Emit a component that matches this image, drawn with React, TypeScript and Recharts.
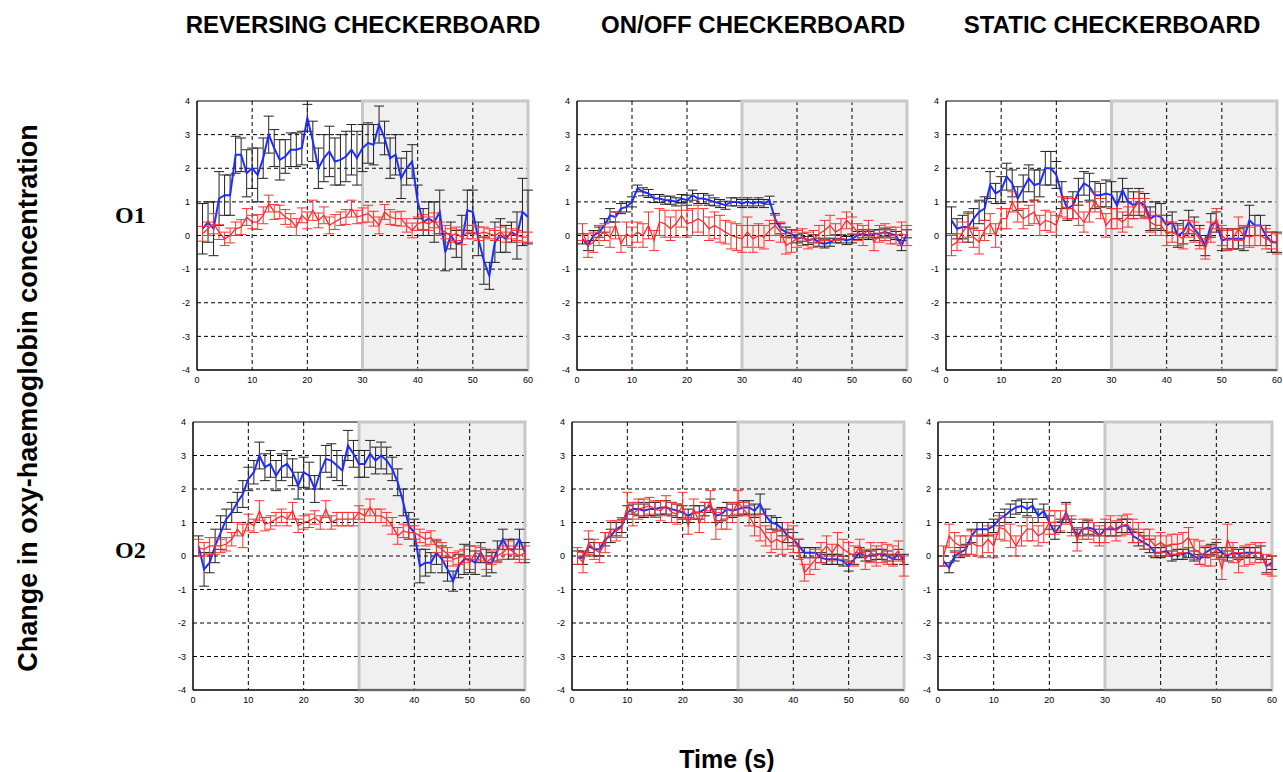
import { ComposedChart, Line, XAxis, YAxis, CartesianGrid, ReferenceArea, ErrorBar } from "recharts";

// time in seconds, 1..60
const seconds = [
  1, 2, 3, 4, 5, 6, 7, 8, 9, 10, 11, 12, 13, 14, 15, 16, 17, 18, 19, 20,
  21, 22, 23, 24, 25, 26, 27, 28, 29, 30, 31, 32, 33, 34, 35, 36, 37, 38, 39, 40,
  41, 42, 43, 44, 45, 46, 47, 48, 49, 50, 51, 52, 53, 54, 55, 56, 57, 58, 59, 60,
];

const xTicks = [0, 10, 20, 30, 40, 50, 60];
const yTicks = [-4, -3, -2, -1, 0, 1, 2, 3, 4];
const xGrid = [10, 20, 30, 40, 50];
const yGrid = [-3, -2, -1, 0, 1, 2, 3];

const columnTitles = ["REVERSING CHECKERBOARD", "ON/OFF CHECKERBOARD", "STATIC CHECKERBOARD"];
const rowLabels = ["O1", "O2"];

// reversing checkerboard, O1
const revO1Blue = [
  0.2, 0.4, 0.2, 1.1, 1.2, 1.2, 2.4, 2.4, 1.85, 2.0, 1.8, 2.3, 3.0, 2.6, 2.25, 2.35, 2.55, 2.55, 2.6, 3.5,
  2.8, 2.0, 2.3, 2.5, 2.2, 2.25, 2.35, 2.55, 2.3, 2.6, 2.75, 2.7, 3.3, 2.9, 2.3, 2.4, 1.7, 2.0, 2.2, 1.0,
  0.4, 0.5, 0.4, 0.7, -0.5, 0.0, -0.25, -0.2, 0.75, 0.7, -0.1, -0.75, -1.2, -0.2, 0.0, -0.1, 0.1, 0.0, 0.7, 0.55,
];
const revO1BlueErr = [
  0.75, 0.6, 0.8, 0.8, 0.6, 0.6, 0.55, 0.5, 0.7, 0.6, 0.8, 0.6, 0.55, 0.55, 0.6, 0.5, 0.5, 0.5, 0.5, 0.4,
  0.6, 0.6, 0.7, 0.75, 0.7, 0.75, 0.75, 0.75, 0.8, 0.7, 0.6, 0.6, 0.55, 0.5, 0.6, 0.6, 0.6, 0.5, 0.5, 0.5,
  0.4, 0.5, 0.6, 0.65, 0.55, 0.4, 0.4, 0.8, 0.6, 0.65, 0.5, 0.7, 0.4, 0.6, 0.5, 0.4, 0.3, 0.7, 1.0, 0.8,
];
const revO1Red = [
  0.05, 0.2, 0.35, 0.1, -0.1, 0.0, 0.2, 0.25, 0.55, 0.4, 0.4, 0.6, 0.95, 0.7, 0.7, 0.55, 0.45, 0.25, 0.6, 0.45,
  0.75, 0.45, 0.6, 0.3, 0.4, 0.5, 0.55, 0.8, 0.55, 0.6, 0.65, 0.5, 0.3, 0.7, 0.55, 0.5, 0.5, 0.3, 0.15, 0.35,
  0.4, 0.35, 0.45, 0.2, 0.1, 0.0, 0.05, -0.05, 0.1, 0.1, 0.05, 0.1, 0.05, 0.0, 0.1, -0.05, 0.05, 0.0, -0.05, -0.05,
];
const revO1RedErr = [
  0.22, 0.2, 0.3, 0.22, 0.2, 0.22, 0.2, 0.22, 0.25, 0.2, 0.22, 0.25, 0.25, 0.22, 0.2, 0.22, 0.2, 0.25, 0.22, 0.25,
  0.3, 0.22, 0.25, 0.25, 0.22, 0.2, 0.22, 0.25, 0.2, 0.22, 0.25, 0.22, 0.25, 0.22, 0.22, 0.2, 0.22, 0.2, 0.22, 0.2,
  0.22, 0.2, 0.22, 0.2, 0.2, 0.2, 0.2, 0.22, 0.2, 0.2, 0.2, 0.15, 0.15, 0.15, 0.15, 0.15, 0.15, 0.15, 0.15, 0.15,
];

// on/off checkerboard, O1
const onoffO1Blue = [
  -0.1, -0.3, 0.0, 0.1, 0.3, 0.6, 0.55, 0.8, 0.85, 1.0, 1.4, 1.3, 1.25, 1.1, 1.1, 1.05, 1.05, 1.0, 1.1, 1.05,
  1.2, 1.1, 1.1, 1.05, 1.0, 0.95, 0.9, 1.0, 1.0, 0.95, 1.0, 0.95, 1.0, 0.95, 1.05, 0.5, 0.2, 0.1, 0.05, -0.1,
  -0.05, -0.15, -0.1, -0.2, -0.25, -0.2, -0.1, -0.1, -0.15, -0.1, 0.0, 0.05, 0.0, 0.05, 0.05, 0.1, 0.05, 0.0, -0.3, 0.05,
];
const onoffO1BlueErr = [
  0.15, 0.15, 0.15, 0.15, 0.2, 0.2, 0.15, 0.15, 0.15, 0.15, 0.1, 0.12, 0.12, 0.12, 0.12, 0.12, 0.12, 0.12, 0.12, 0.15,
  0.15, 0.15, 0.15, 0.15, 0.12, 0.12, 0.12, 0.12, 0.12, 0.12, 0.12, 0.12, 0.12, 0.12, 0.12, 0.15, 0.15, 0.15, 0.12, 0.12,
  0.12, 0.12, 0.12, 0.12, 0.12, 0.12, 0.12, 0.12, 0.12, 0.12, 0.12, 0.12, 0.12, 0.12, 0.12, 0.12, 0.12, 0.12, 0.15, 0.12,
];
const onoffO1Red = [
  0.1, -0.3, -0.2, 0.0, 0.1, -0.05, 0.3, -0.25, 0.05, -0.05, 0.1, 0.0, 0.3, -0.15, 0.4, 0.35, 0.2, 0.35, 0.6, 0.35,
  0.4, 0.5, 0.4, 0.2, 0.3, 0.2, 0.1, 0.0, -0.05, -0.1, 0.1, -0.1, 0.0, -0.05, 0.15, 0.3, 0.1, -0.3, -0.2, -0.1,
  -0.05, -0.15, -0.1, 0.05, 0.15, 0.3, 0.1, 0.2, 0.45, 0.3, 0.1, 0.0, 0.2, -0.2, 0.05, 0.1, 0.0, 0.0, 0.05, 0.0,
];
const onoffO1RedErr = [
  0.25, 0.35, 0.3, 0.3, 0.25, 0.3, 0.4, 0.25, 0.35, 0.3, 0.3, 0.35, 0.4, 0.3, 0.4, 0.4, 0.35, 0.4, 0.35, 0.4,
  0.4, 0.4, 0.4, 0.35, 0.4, 0.4, 0.35, 0.4, 0.4, 0.4, 0.45, 0.4, 0.35, 0.35, 0.3, 0.3, 0.3, 0.25, 0.3, 0.25,
  0.25, 0.25, 0.25, 0.25, 0.3, 0.3, 0.25, 0.3, 0.25, 0.25, 0.25, 0.3, 0.25, 0.25, 0.25, 0.25, 0.25, 0.25, 0.35, 0.3,
];

// static checkerboard, O1
const staticO1Blue = [
  0.45, 0.2, 0.25, 0.25, 0.5, 0.7, 0.8, 1.5, 1.25, 1.35, 1.75, 1.55, 1.1, 1.4, 1.7, 1.5, 1.55, 2.0, 2.0, 1.8,
  1.2, 0.8, 0.9, 1.3, 1.55, 1.45, 1.2, 1.2, 1.25, 1.2, 0.9, 1.35, 1.0, 0.9, 1.0, 0.9, 0.5, 0.6, 0.55, 0.3,
  0.4, 0.0, 0.1, 0.4, 0.2, 0.0, -0.3, 0.3, 0.4, -0.15, -0.1, -0.1, -0.1, -0.1, 0.45, 0.3, 0.3, 0.0, -0.2, -0.2,
];
const staticO1BlueErr = [
  0.4, 0.3, 0.35, 0.45, 0.3, 0.35, 0.35, 0.4, 0.3, 0.4, 0.4, 0.4, 0.35, 0.4, 0.4, 0.45, 0.4, 0.5, 0.5, 0.4,
  0.4, 0.35, 0.4, 0.4, 0.35, 0.4, 0.4, 0.35, 0.4, 0.4, 0.4, 0.35, 0.4, 0.4, 0.4, 0.35, 0.35, 0.4, 0.4, 0.3,
  0.3, 0.35, 0.35, 0.35, 0.35, 0.3, 0.3, 0.35, 0.3, 0.3, 0.3, 0.3, 0.3, 0.35, 0.45, 0.3, 0.3, 0.3, 0.3, 0.3,
];
const staticO1Red = [
  -0.3, -0.2, 0.1, 0.3, -0.05, -0.2, 0.15, 0.35, 0.0, 0.5, 0.5, 1.0, 0.7, 0.5, 0.6, 0.7, 0.3, 0.45, 0.4, 0.3,
  0.85, 0.8, 0.8, 0.6, 0.4, 0.7, 1.0, 0.8, 0.3, 0.5, 0.5, 0.4, 0.55, 0.8, 1.0, 0.8, 0.4, 0.3, 0.3, 0.05,
  0.1, 0.0, -0.1, 0.2, 0.1, -0.1, -0.4, 0.1, 0.5, 0.0, -0.15, -0.1, 0.2, 0.0, -0.05, 0.0, 0.0, -0.1, -0.15, -0.25,
];
const staticO1RedErr = [
  0.3, 0.25, 0.3, 0.35, 0.3, 0.35, 0.3, 0.3, 0.35, 0.3, 0.3, 0.3, 0.3, 0.3, 0.3, 0.35, 0.3, 0.3, 0.3, 0.3,
  0.3, 0.3, 0.3, 0.3, 0.3, 0.3, 0.3, 0.3, 0.35, 0.3, 0.3, 0.3, 0.3, 0.3, 0.3, 0.3, 0.3, 0.3, 0.3, 0.35,
  0.3, 0.3, 0.3, 0.25, 0.3, 0.3, 0.3, 0.3, 0.3, 0.3, 0.3, 0.3, 0.35, 0.3, 0.3, 0.3, 0.3, 0.3, 0.25, 0.3,
];

// reversing checkerboard, O2
const revO2Blue = [
  0.3, -0.4, -0.2, 0.3, 0.7, 1.1, 1.3, 1.6, 1.85, 2.3, 2.5, 3.0, 2.65, 2.75, 2.4, 2.65, 2.75, 2.5, 2.1, 2.5,
  2.4, 2.0, 2.5, 2.9, 2.85, 2.7, 2.55, 3.3, 3.05, 2.75, 2.75, 3.05, 2.85, 3.0, 2.85, 2.6, 2.2, 1.6, 0.9, 0.7,
  -0.3, -0.2, -0.2, 0.1, -0.1, -0.4, -0.75, -0.3, -0.1, -0.1, -0.2, 0.1, -0.2, -0.2, 0.15, 0.5, 0.2, 0.2, 0.5, 0.1,
];
const revO2BlueErr = [
  0.3, 0.5, 0.3, 0.5, 0.5, 0.3, 0.3, 0.3, 0.4, 0.35, 0.35, 0.4, 0.4, 0.4, 0.45, 0.4, 0.4, 0.4, 0.4, 0.45,
  0.4, 0.4, 0.5, 0.4, 0.5, 0.45, 0.45, 0.45, 0.4, 0.4, 0.4, 0.4, 0.4, 0.4, 0.4, 0.35, 0.4, 0.4, 0.4, 0.4,
  0.5, 0.4, 0.3, 0.35, 0.4, 0.35, 0.3, 0.35, 0.45, 0.4, 0.35, 0.3, 0.4, 0.3, 0.3, 0.3, 0.3, 0.3, 0.3, 0.3,
];
const revO2Red = [
  0.25, 0.2, 0.3, 0.3, 0.3, 0.35, 0.5, 0.8, 0.6, 1.0, 0.9, 1.35, 0.95, 1.0, 1.1, 1.2, 1.1, 1.35, 0.9, 1.0,
  1.05, 1.15, 1.0, 1.4, 1.0, 1.1, 1.1, 1.1, 1.1, 1.3, 1.2, 1.45, 1.2, 1.2, 1.1, 0.9, 0.6, 0.75, 0.7, 0.7,
  0.6, 0.5, 0.55, 0.3, 0.2, 0.05, -0.1, -0.05, 0.0, -0.2, 0.1, 0.05, -0.2, -0.05, 0.0, 0.1, 0.25, 0.1, 0.0, 0.1,
];
const revO2RedErr = [
  0.25, 0.2, 0.25, 0.25, 0.2, 0.2, 0.2, 0.2, 0.35, 0.25, 0.2, 0.3, 0.2, 0.2, 0.2, 0.2, 0.2, 0.25, 0.2, 0.2,
  0.2, 0.2, 0.2, 0.25, 0.2, 0.2, 0.2, 0.2, 0.2, 0.2, 0.2, 0.25, 0.2, 0.2, 0.2, 0.25, 0.25, 0.2, 0.2, 0.2,
  0.2, 0.2, 0.2, 0.2, 0.2, 0.2, 0.2, 0.2, 0.2, 0.2, 0.2, 0.2, 0.2, 0.2, 0.2, 0.2, 0.2, 0.2, 0.2, 0.2,
];

// on/off checkerboard, O2
const onoffO2Blue = [
  -0.05, -0.05, 0.3, 0.2, 0.2, 0.5, 0.6, 0.8, 0.9, 1.3, 1.4, 1.4, 1.35, 1.4, 1.4, 1.45, 1.45, 1.4, 1.35, 1.3,
  1.2, 1.3, 1.3, 1.4, 1.5, 1.2, 1.25, 1.4, 1.35, 1.4, 1.45, 1.45, 1.35, 1.55, 1.2, 1.0, 0.95, 0.8, 0.6, 0.5,
  0.3, 0.1, 0.1, 0.1, -0.05, -0.1, -0.1, -0.1, -0.15, -0.3, -0.1, 0.1, 0.0, 0.0, 0.05, 0.05, 0.0, -0.1, 0.05, -0.1,
];
const onoffO2BlueErr = [
  0.2, 0.2, 0.2, 0.2, 0.2, 0.2, 0.2, 0.2, 0.2, 0.2, 0.15, 0.2, 0.2, 0.2, 0.2, 0.2, 0.2, 0.2, 0.2, 0.2,
  0.2, 0.2, 0.2, 0.2, 0.2, 0.2, 0.2, 0.2, 0.2, 0.2, 0.2, 0.2, 0.2, 0.3, 0.2, 0.2, 0.2, 0.2, 0.2, 0.2,
  0.2, 0.15, 0.15, 0.15, 0.15, 0.15, 0.15, 0.15, 0.15, 0.15, 0.15, 0.15, 0.15, 0.15, 0.15, 0.15, 0.15, 0.15, 0.15, 0.15,
];
const onoffO2Red = [
  0.0, -0.2, 0.4, 0.2, 0.1, 0.4, 0.8, 0.75, 0.85, 1.5, 1.25, 1.4, 1.45, 1.5, 1.4, 1.35, 1.5, 1.3, 1.25, 1.5,
  0.9, 1.4, 1.0, 1.3, 1.65, 0.9, 1.1, 1.1, 1.3, 1.6, 1.4, 1.2, 0.9, 0.85, 0.6, 0.4, 0.5, 0.4, 0.6, 0.5,
  0.2, -0.5, -0.3, -0.1, 0.1, 0.3, 0.1, 0.35, 0.2, 0.1, 0.0, 0.3, -0.1, 0.1, 0.0, 0.1, 0.05, 0.0, 0.15, -0.3,
];
const onoffO2RedErr = [
  0.25, 0.3, 0.35, 0.3, 0.3, 0.3, 0.25, 0.3, 0.3, 0.4, 0.35, 0.3, 0.25, 0.25, 0.25, 0.3, 0.3, 0.3, 0.3, 0.4,
  0.25, 0.3, 0.3, 0.3, 0.3, 0.4, 0.3, 0.3, 0.3, 0.35, 0.2, 0.3, 0.3, 0.4, 0.3, 0.3, 0.3, 0.35, 0.4, 0.4,
  0.3, 0.25, 0.25, 0.3, 0.3, 0.3, 0.25, 0.35, 0.3, 0.3, 0.3, 0.2, 0.3, 0.3, 0.3, 0.3, 0.3, 0.3, 0.3, 0.3,
];

// static checkerboard, O2
const staticO2Blue = [
  -0.15, -0.35, 0.0, 0.1, 0.2, 0.6, 0.8, 0.8, 0.8, 0.9, 1.1, 1.2, 1.35, 1.45, 1.5, 1.4, 1.5, 1.2, 1.35, 1.0,
  0.7, 0.9, 1.3, 0.9, 0.6, 0.8, 0.85, 0.8, 0.6, 0.8, 0.8, 0.8, 0.9, 0.9, 0.6, 0.5, 0.4, 0.3, 0.1, 0.1,
  0.15, 0.0, 0.05, 0.05, 0.1, 0.0, -0.1, 0.1, 0.2, 0.25, 0.1, 0.0, 0.1, 0.05, 0.1, 0.1, 0.1, 0.1, -0.3, -0.2,
];
const staticO2BlueErr = [
  0.15, 0.15, 0.15, 0.15, 0.15, 0.2, 0.2, 0.2, 0.2, 0.2, 0.2, 0.2, 0.2, 0.2, 0.2, 0.2, 0.2, 0.2, 0.2, 0.2,
  0.2, 0.2, 0.3, 0.2, 0.2, 0.2, 0.2, 0.2, 0.2, 0.2, 0.2, 0.2, 0.2, 0.2, 0.2, 0.2, 0.2, 0.2, 0.15, 0.15,
  0.15, 0.15, 0.15, 0.15, 0.15, 0.15, 0.15, 0.15, 0.15, 0.15, 0.15, 0.15, 0.15, 0.15, 0.15, 0.15, 0.15, 0.2, 0.2, 0.2,
];
const staticO2Red = [
  0.0, 0.6, 0.4, 0.3, 0.3, 0.4, 0.3, 0.3, 0.5, 0.3, 0.85, 0.8, 0.6, 0.3, 0.6, 0.8, 0.8, 0.6, 0.7, 1.0,
  1.0, 1.05, 1.25, 0.9, 0.5, 0.8, 0.8, 0.7, 0.6, 0.75, 0.9, 0.75, 0.9, 0.95, 0.75, 0.7, 0.5, 0.5, 0.3, 0.4,
  0.3, 0.35, 0.35, 0.4, 0.55, 0.2, 0.1, 0.0, 0.0, 0.2, -0.4, 0.5, 0.1, -0.2, 0.0, 0.05, 0.1, 0.1, -0.25, -0.3,
];
const staticO2RedErr = [
  0.3, 0.35, 0.3, 0.3, 0.3, 0.35, 0.3, 0.35, 0.4, 0.35, 0.35, 0.35, 0.35, 0.3, 0.3, 0.35, 0.35, 0.3, 0.3, 0.35,
  0.35, 0.3, 0.3, 0.3, 0.35, 0.3, 0.3, 0.3, 0.3, 0.35, 0.3, 0.3, 0.3, 0.3, 0.35, 0.3, 0.3, 0.3, 0.3, 0.3,
  0.3, 0.3, 0.3, 0.3, 0.3, 0.3, 0.35, 0.3, 0.3, 0.3, 0.3, 0.45, 0.3, 0.3, 0.3, 0.3, 0.3, 0.3, 0.3, 0.3,
];

const FONT = "'Liberation Sans', Arial, sans-serif";

type PanelProps = {
  left: number;
  top: number;
  w: number;
  h: number;
  blue: number[];
  blueErr: number[];
  red: number[];
  redErr: number[];
};

const ML = 18;
const MT = 6;
const MR = 6;
const MB = 16;

const Panel = ({ left, top, w, h, blue, blueErr, red, redErr }: PanelProps) => {
  const data = seconds.map((t, i) => ({
    t,
    b: blue[i],
    be: blueErr[i],
    r: red[i],
    re: redErr[i],
  }));
  return (
    <div style={{ position: "absolute", left: left - ML, top: top - MT }}>
      <ComposedChart
        width={w + ML + MR}
        height={h + MT + MB}
        data={data}
        margin={{ top: MT, right: MR, bottom: 0, left: 0 }}
      >
        <CartesianGrid
          stroke="#000"
          strokeDasharray="4 3"
          strokeWidth={1}
          horizontalValues={yGrid}
          verticalValues={xGrid}
        />
        {/* stimulus-off period, translucent so the dashed grid shows through */}
        <ReferenceArea x1={30} x2={60} y1={-4} y2={4} fill="#000" fillOpacity={0.06} stroke="none" />
        <ReferenceArea x1={0} x2={60} y1={-4} y2={4} fill="none" stroke="#000" strokeWidth={1} />
        <ReferenceArea x1={30} x2={60} y1={-4} y2={4} fill="none" stroke="#c8c8c8" strokeWidth={3} />
        <XAxis
          dataKey="t"
          type="number"
          domain={[0, 60]}
          ticks={xTicks}
          height={MB}
          tickLine={false}
          axisLine={{ stroke: "#000" }}
          tick={{ fontSize: 9, fill: "#000", fontFamily: FONT }}
          tickMargin={1}
        />
        <YAxis
          type="number"
          domain={[-4, 4]}
          ticks={yTicks}
          width={ML}
          tickLine={false}
          axisLine={{ stroke: "#000" }}
          tick={{ fontSize: 9, fill: "#000", fontFamily: FONT }}
          tickMargin={1}
        />
        <Line dataKey="b" stroke="#1f2cff" strokeWidth={2} dot={false} type="linear" isAnimationActive={false}>
          <ErrorBar dataKey="be" width={5} stroke="#222" strokeWidth={1} />
        </Line>
        <Line dataKey="r" stroke="#ff2a2a" strokeWidth={1.3} dot={false} type="linear" isAnimationActive={false}>
          <ErrorBar dataKey="re" width={5} stroke="#ff3030" strokeWidth={1} />
        </Line>
      </ComposedChart>
    </div>
  );
};

const panels = [
  { left: 197, top: 101, w: 331, h: 269, blue: revO1Blue, blueErr: revO1BlueErr, red: revO1Red, redErr: revO1RedErr },
  { left: 577, top: 101, w: 330, h: 269, blue: onoffO1Blue, blueErr: onoffO1BlueErr, red: onoffO1Red, redErr: onoffO1RedErr },
  { left: 946, top: 101, w: 331, h: 269, blue: staticO1Blue, blueErr: staticO1BlueErr, red: staticO1Red, redErr: staticO1RedErr },
  { left: 193, top: 422, w: 332, h: 268, blue: revO2Blue, blueErr: revO2BlueErr, red: revO2Red, redErr: revO2RedErr },
  { left: 572, top: 422, w: 332, h: 268, blue: onoffO2Blue, blueErr: onoffO2BlueErr, red: onoffO2Red, redErr: onoffO2RedErr },
  { left: 938, top: 422, w: 334, h: 268, blue: staticO2Blue, blueErr: staticO2BlueErr, red: staticO2Red, redErr: staticO2RedErr },
];

const titleX = [363, 753, 1112];
const rowY = [215, 550];

export default function App() {
  return (
    <div
      style={{
        position: "absolute",
        left: 0,
        top: 0,
        width: 1283,
        height: 772,
        background: "#fff",
        overflow: "hidden",
        fontFamily: FONT,
      }}
    >
      {columnTitles.map((t, i) => (
        <div
          key={t}
          style={{
            position: "absolute",
            left: titleX[i] - 250,
            width: 500,
            top: 10,
            textAlign: "center",
            fontSize: 24,
            fontWeight: "bold",
            lineHeight: "30px",
          }}
        >
          {t}
        </div>
      ))}
      {rowLabels.map((t, i) => (
        <div
          key={t}
          style={{
            position: "absolute",
            left: 115,
            top: rowY[i] - 15,
            fontFamily: "'Liberation Serif', 'Times New Roman', serif",
            fontSize: 24,
            fontWeight: "bold",
            lineHeight: "30px",
          }}
        >
          {t}
        </div>
      ))}
      <div
        style={{
          position: "absolute",
          left: 28 - 300,
          top: 398 - 15,
          width: 600,
          textAlign: "center",
          fontSize: 27,
          fontWeight: "bold",
          lineHeight: "30px",
          transform: "rotate(-90deg)",
        }}
      >
        Change in oxy-haemoglobin concentration
      </div>
      <div
        style={{
          position: "absolute",
          left: 727 - 100,
          width: 200,
          top: 747,
          textAlign: "center",
          fontSize: 25,
          fontWeight: "bold",
          lineHeight: "24px",
        }}
      >
        Time (s)
      </div>
      {panels.map((p, i) => (
        <Panel key={i} {...p} />
      ))}
    </div>
  );
}
